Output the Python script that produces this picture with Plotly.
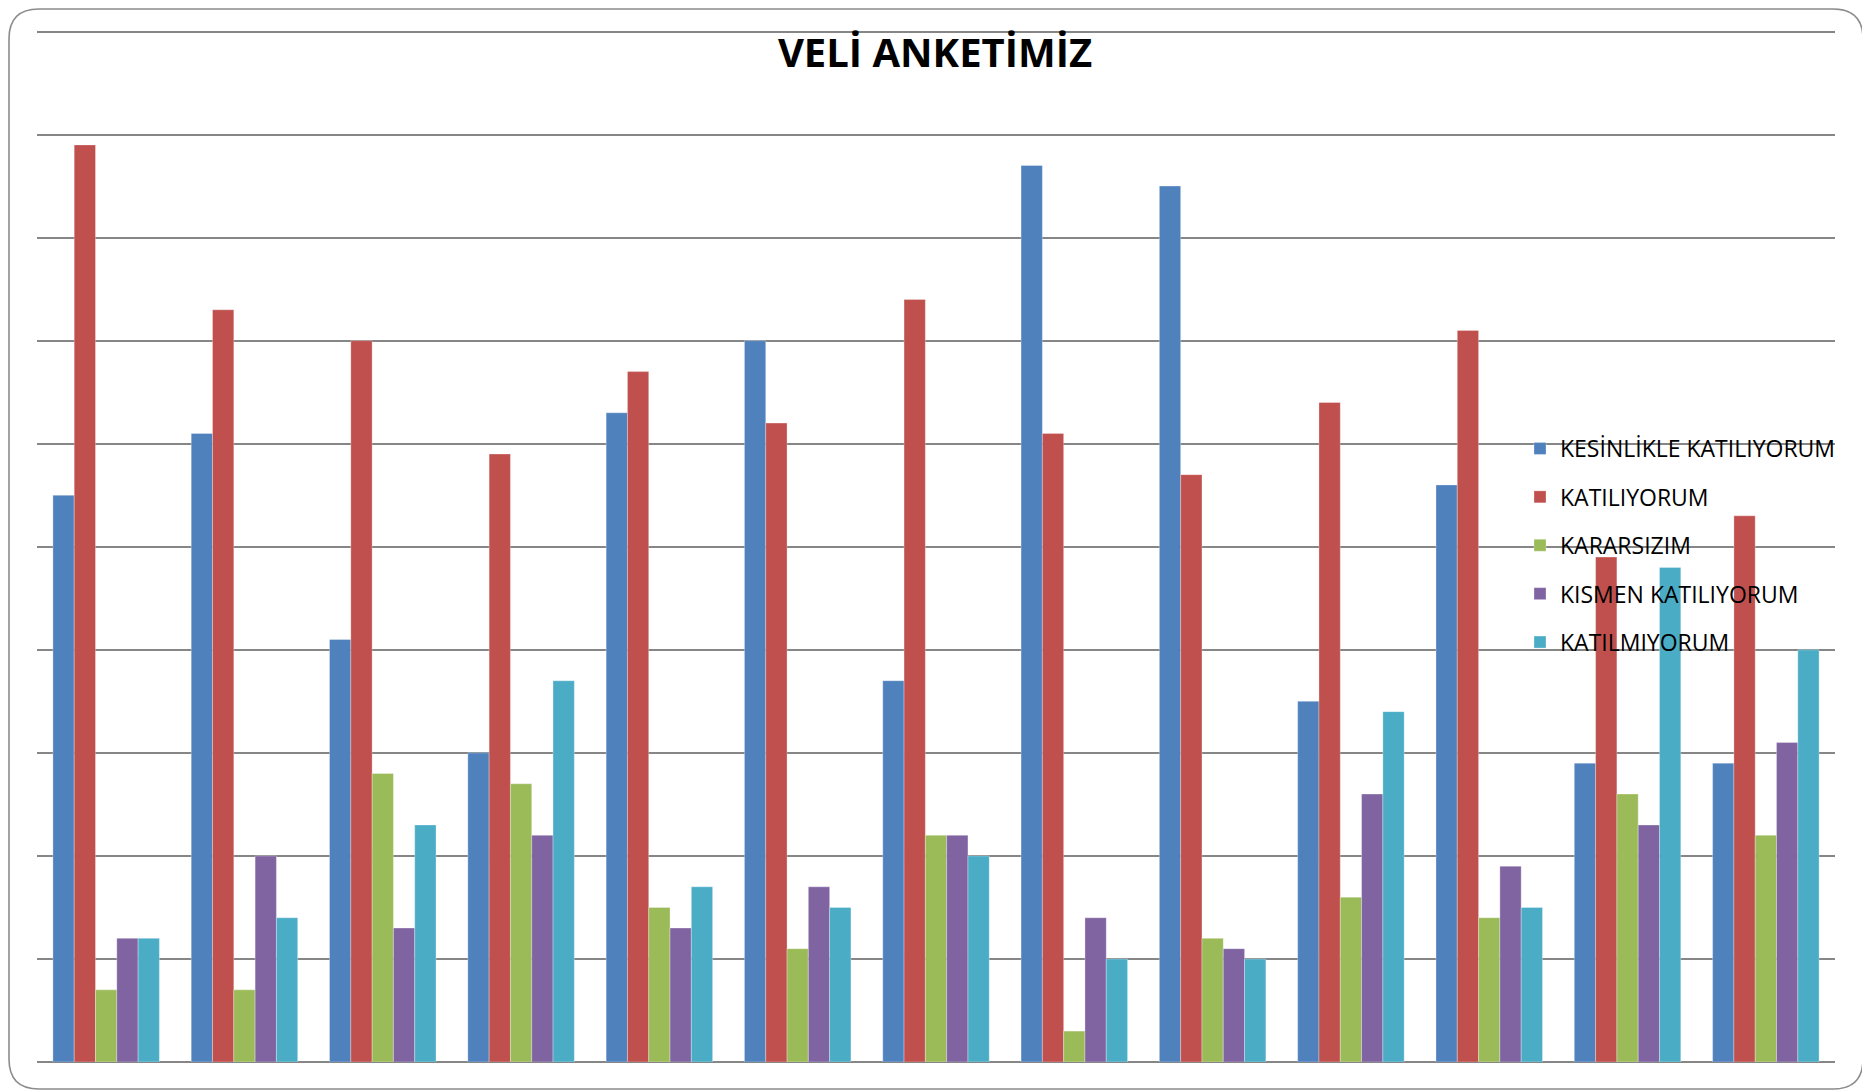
import plotly.graph_objects as go

# survey questions (no labels shown on the chart)
questions = [str(i) for i in range(1, 14)]

kesinlikle = [55, 61, 41, 30, 63, 70, 37, 87, 85, 35, 56, 29, 29]
katiliyorum = [89, 73, 70, 59, 67, 62, 74, 61, 57, 64, 71, 49, 53]
kararsizim = [7, 7, 28, 27, 15, 11, 22, 3, 12, 16, 14, 26, 22]
kismen = [12, 20, 13, 22, 13, 17, 22, 14, 11, 26, 19, 23, 31]
katilmiyorum = [12, 14, 23, 37, 17, 15, 20, 10, 10, 34, 15, 48, 40]

series = [
    ("KESİNLİKLE KATILIYORUM", kesinlikle, "#4F81BD"),
    ("KATILIYORUM", katiliyorum, "#C0504D"),
    ("KARARSIZIM", kararsizim, "#9BBB59"),
    ("KISMEN KATILIYORUM", kismen, "#8064A2"),
    ("KATILMIYORUM", katilmiyorum, "#4BACC6"),
]

# page has an 8px body margin, so the figure is a bit smaller than the window
W, H = 1862, 1083
L, R, T, B = 29, 35, 22, 29
pw = W - L - R
ph = H - T - B

fig = go.Figure()
for i, (name, vals, col) in enumerate(series):
    fig.add_trace(go.Bar(
        x=questions, y=vals, name=name,
        marker=dict(color=col, line=dict(color="rgba(255,255,255,0.5)", width=0.6)),
        legendgroup="g%d" % i,
    ))

# rounded chart border
def px_x(v):
    return (v - L) / pw

def px_y(v):
    return (H - B - v) / ph

x0, x1, y0, y1, r = 1, 1855, 1, 1081, 30
path = (
    f"M {px_x(x0 + r)},{px_y(y0)} L {px_x(x1 - r)},{px_y(y0)} "
    f"Q {px_x(x1)},{px_y(y0)} {px_x(x1)},{px_y(y0 + r)} "
    f"L {px_x(x1)},{px_y(y1 - r)} "
    f"Q {px_x(x1)},{px_y(y1)} {px_x(x1 - r)},{px_y(y1)} "
    f"L {px_x(x0 + r)},{px_y(y1)} "
    f"Q {px_x(x0)},{px_y(y1)} {px_x(x0)},{px_y(y1 - r)} "
    f"L {px_x(x0)},{px_y(y0 + r)} "
    f"Q {px_x(x0)},{px_y(y0)} {px_x(x0 + r)},{px_y(y0)} Z"
)
fig.add_shape(type="path", path=path, xref="paper", yref="paper",
              line=dict(color="#8C8C8C", width=1.6), layer="above")

fig.update_layout(
    width=W, height=H,
    margin=dict(l=L, r=R, t=T, b=B, autoexpand=False),
    paper_bgcolor="white", plot_bgcolor="white",
    barmode="group", bargap=0.23, bargroupgap=0,
    font=dict(family="Open Sans", color="black"),
    title=dict(text="<b>VELİ ANKETİMİZ</b>", x=927 / W, xanchor="center",
               y=1 - 44.5 / H, yanchor="middle", yref="container",
               font=dict(size=40, family="Open Sans", color="black")),
    legend=dict(xref="container", yref="container", x=1512 / W, xanchor="left",
                y=1 - 419 / H, yanchor="top", bgcolor="rgba(0,0,0,0)",
                font=dict(size=23), tracegroupgap=15.5, traceorder="grouped"),
    xaxis=dict(showticklabels=False, ticks="", showgrid=False, showline=False),
    yaxis=dict(range=[0, 100.15], tickvals=list(range(10, 101, 10)),
               showticklabels=False, ticks="",
               showgrid=True, gridcolor="#868686", gridwidth=1.5,
               zeroline=True, zerolinecolor="#868686", zerolinewidth=1.5),
)

fig.write_html("out.html")
